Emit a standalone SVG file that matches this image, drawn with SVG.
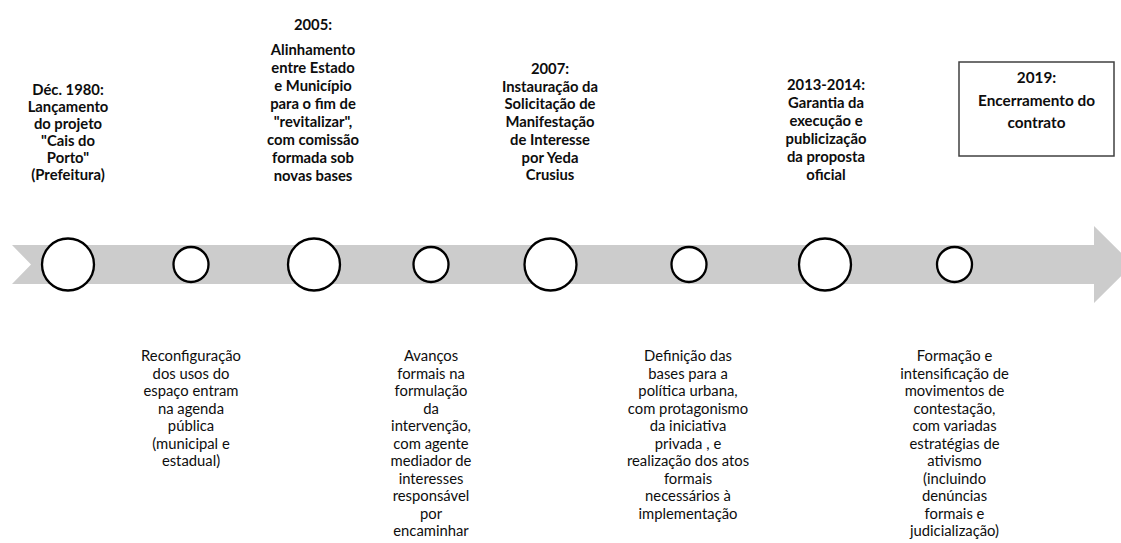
<svg xmlns="http://www.w3.org/2000/svg" width="1121" height="543" viewBox="0 0 1121 543">
  <style>
    .head { font-family: Lato, "Liberation Sans", sans-serif; font-size: 14.8px; font-weight: bold; fill: #0d0d0d; text-anchor: middle; }
    .boxhead { font-size: 15.3px; }
    .desc { font-family: Lato, "Liberation Sans", sans-serif; font-size: 14.8px; fill: #0d0d0d; text-anchor: middle; }
    .big { fill: #ffffff; stroke: #000000; stroke-width: 2.3; }
    .small { fill: #ffffff; stroke: #000000; stroke-width: 2.3; }
    .box { fill: #ffffff; stroke: #404040; stroke-width: 1.5; }
  </style>
  <rect width="1121" height="543" fill="#ffffff"/>

  <!-- timeline band with notched tail and arrow head -->
  <g id="connectors">
    <polygon points="12,245 1094,245 1094,226 1133,264.5 1094,303 1094,284 12,284 31,264.5" fill="#cccccc"/>
  </g>

  <!-- milestone markers -->
  <g id="markers">
    <circle id="m1980" class="big" cx="68" cy="264.5" r="26"/>
    <circle id="p1" class="small" cx="191" cy="264.5" r="17.5"/>
    <circle id="m2005" class="big" cx="314" cy="264.5" r="26"/>
    <circle id="p2" class="small" cx="431" cy="264.5" r="17.5"/>
    <circle id="m2007" class="big" cx="550.5" cy="264.5" r="26"/>
    <circle id="p3" class="small" cx="689" cy="264.5" r="17.5"/>
    <circle id="m2013" class="big" cx="825" cy="264.5" r="26"/>
    <circle id="p4" class="small" cx="954.5" cy="264.5" r="17.5"/>
  </g>

  <!-- milestone labels above the band -->
  <g id="label-1980">
    <text class="head" x="68" y="95">Déc. 1980:</text>
    <text class="head" x="68" y="112">Lançamento</text>
    <text class="head" x="68" y="129">do projeto</text>
    <text class="head" x="68" y="146">"Cais do</text>
    <text class="head" x="68" y="163">Porto"</text>
    <text class="head" x="68" y="180">(Prefeitura)</text>
  </g>
  <g id="label-2005">
    <text class="head" x="313" y="30">2005:</text>
    <text class="head" x="313" y="55">Alinhamento</text>
    <text class="head" x="313" y="73">entre Estado</text>
    <text class="head" x="313" y="91">e Município</text>
    <text class="head" x="313" y="109">para o fim de</text>
    <text class="head" x="313" y="127">"revitalizar",</text>
    <text class="head" x="313" y="145">com comissão</text>
    <text class="head" x="313" y="163">formada sob</text>
    <text class="head" x="313" y="181">novas bases</text>
  </g>
  <g id="label-2007">
    <text class="head" x="550" y="74">2007:</text>
    <text class="head" x="550" y="91.7">Instauração da</text>
    <text class="head" x="550" y="109.4">Solicitação de</text>
    <text class="head" x="550" y="127.1">Manifestação</text>
    <text class="head" x="550" y="144.8">de Interesse</text>
    <text class="head" x="550" y="162.5">por Yeda</text>
    <text class="head" x="550" y="180.2">Crusius</text>
  </g>
  <g id="label-2013">
    <text class="head" x="826" y="90">2013-2014:</text>
    <text class="head" x="826" y="108">Garantia da</text>
    <text class="head" x="826" y="126">execução e</text>
    <text class="head" x="826" y="144">publicização</text>
    <text class="head" x="826" y="162">da proposta</text>
    <text class="head" x="826" y="180">oficial</text>
  </g>
  <g id="label-2019">
    <rect class="box" x="959" y="62" width="155" height="94"/>
    <text class="head boxhead" x="1036.5" y="83">2019:</text>
    <text class="head boxhead" x="1036.5" y="105.5">Encerramento do</text>
    <text class="head boxhead" x="1036.5" y="128">contrato</text>
  </g>

  <!-- period descriptions below the band -->
  <g id="period-1">
    <text class="desc" x="191" y="361">Reconfiguração</text>
    <text class="desc" x="191" y="378.5">dos usos do</text>
    <text class="desc" x="191" y="396">espaço entram</text>
    <text class="desc" x="191" y="413.5">na agenda</text>
    <text class="desc" x="191" y="431">pública</text>
    <text class="desc" x="191" y="448.5">(municipal e</text>
    <text class="desc" x="191" y="466">estadual)</text>
  </g>
  <g id="period-2">
    <text class="desc" x="431" y="361">Avanços</text>
    <text class="desc" x="431" y="378.5">formais na</text>
    <text class="desc" x="431" y="396">formulação</text>
    <text class="desc" x="431" y="413.5">da</text>
    <text class="desc" x="431" y="431">intervenção,</text>
    <text class="desc" x="431" y="448.5">com agente</text>
    <text class="desc" x="431" y="466">mediador de</text>
    <text class="desc" x="431" y="483.5">interesses</text>
    <text class="desc" x="431" y="501">responsável</text>
    <text class="desc" x="431" y="518.5">por</text>
    <text class="desc" x="431" y="536">encaminhar</text>
  </g>
  <g id="period-3">
    <text class="desc" x="688" y="361">Definição das</text>
    <text class="desc" x="688" y="378.5">bases para a</text>
    <text class="desc" x="688" y="396">política urbana,</text>
    <text class="desc" x="688" y="413.5">com protagonismo</text>
    <text class="desc" x="688" y="431">da iniciativa</text>
    <text class="desc" x="688" y="448.5">privada , e</text>
    <text class="desc" x="688" y="466">realização dos atos</text>
    <text class="desc" x="688" y="483.5">formais</text>
    <text class="desc" x="688" y="501">necessários à</text>
    <text class="desc" x="688" y="518.5">implementação</text>
  </g>
  <g id="period-4">
    <text class="desc" x="954.5" y="361">Formação e</text>
    <text class="desc" x="954.5" y="378.5">intensificação de</text>
    <text class="desc" x="954.5" y="396">movimentos de</text>
    <text class="desc" x="954.5" y="413.5">contestação,</text>
    <text class="desc" x="954.5" y="431">com variadas</text>
    <text class="desc" x="954.5" y="448.5">estratégias de</text>
    <text class="desc" x="954.5" y="466">ativismo</text>
    <text class="desc" x="954.5" y="483.5">(incluindo</text>
    <text class="desc" x="954.5" y="501">denúncias</text>
    <text class="desc" x="954.5" y="518.5">formais e</text>
    <text class="desc" x="954.5" y="536">judicialização)</text>
  </g>
</svg>
